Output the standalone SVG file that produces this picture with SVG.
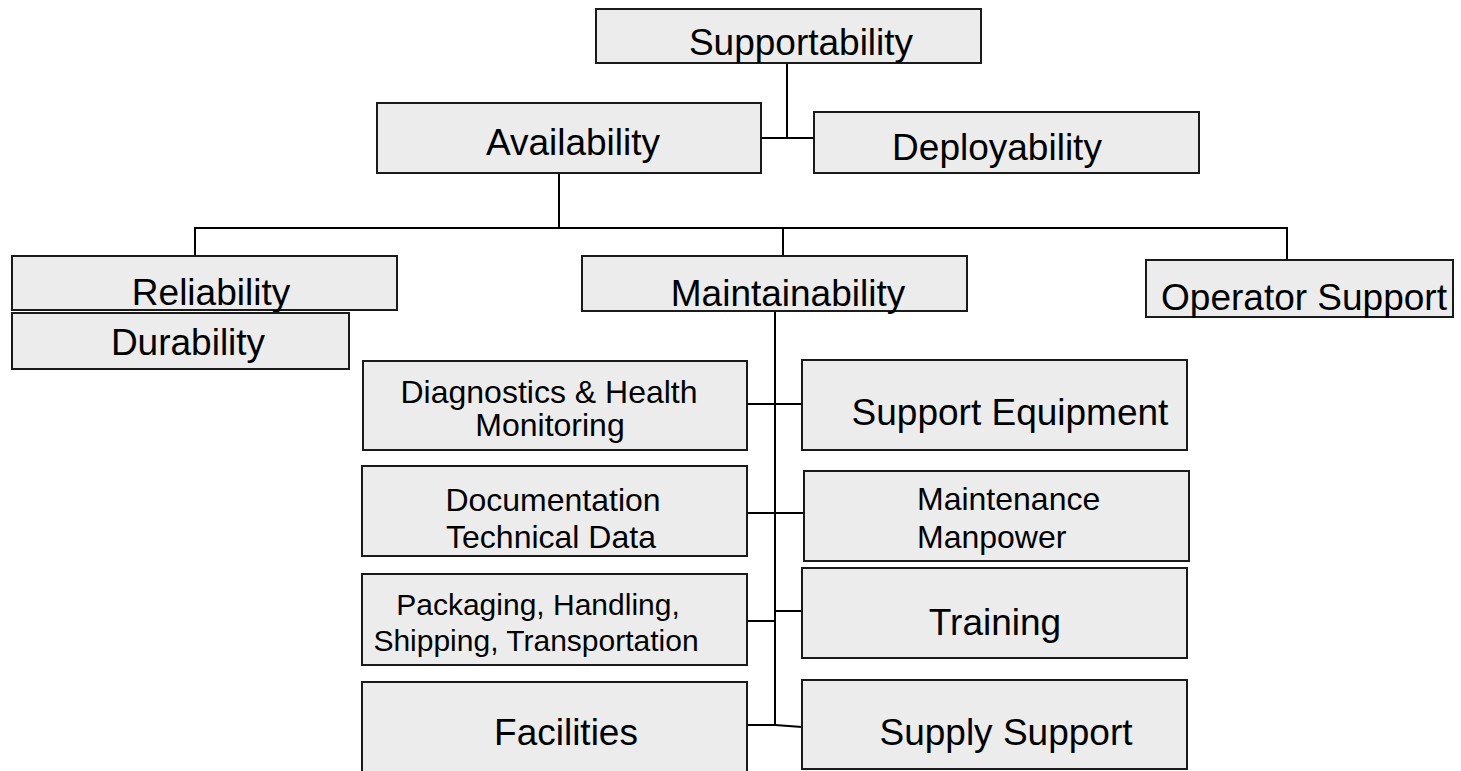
<svg xmlns="http://www.w3.org/2000/svg" width="1461" height="771" viewBox="0 0 1461 771">
<style>
.box{fill:#ececec;stroke:#1a1a1a;stroke-width:2}
.lbl{font-family:"Liberation Sans",Arial,sans-serif;fill:#000;text-anchor:middle}
.big{font-size:37px}
.mid{font-size:32px}
.sm{font-size:30px}
.conn{stroke:#000;stroke-width:2;fill:none}
</style>
<rect width="1461" height="771" fill="#fff"/>
<g id="connectors">
<line class="conn" x1="787" y1="63" x2="787" y2="138"/>
<line class="conn" x1="761" y1="138" x2="814" y2="138"/>
<line class="conn" x1="559" y1="173" x2="559" y2="228"/>
<line class="conn" x1="194" y1="228" x2="1288" y2="228"/>
<line class="conn" x1="195" y1="228" x2="195" y2="256"/>
<line class="conn" x1="783" y1="228" x2="783" y2="256"/>
<line class="conn" x1="1287" y1="228" x2="1287" y2="260"/>
<line class="conn" x1="775" y1="311" x2="775" y2="726"/>
<line class="conn" x1="747" y1="404" x2="802" y2="404"/>
<line class="conn" x1="747" y1="513" x2="804" y2="513"/>
<line class="conn" x1="747" y1="621" x2="775" y2="621"/>
<line class="conn" x1="775" y1="611" x2="802" y2="611"/>
<line class="conn" x1="747" y1="725" x2="775" y2="725"/>
<line class="conn" x1="775" y1="725" x2="802" y2="727"/>
</g>
<g id="supportability"><rect class="box" x="596" y="9" width="385" height="54"/><text class="lbl big" x="801" y="55">Supportability</text></g>
<g id="availability"><rect class="box" x="377" y="103" width="384" height="70"/><text class="lbl big" x="573" y="155">Availability</text></g>
<g id="deployability"><rect class="box" x="814" y="112" width="385" height="61"/><text class="lbl big" x="997" y="160">Deployability</text></g>
<g id="reliability"><rect class="box" x="12" y="256" width="385" height="54"/><text class="lbl big" x="211" y="305">Reliability</text></g>
<g id="durability"><rect class="box" x="12" y="313" width="337" height="56"/><text class="lbl big" x="188" y="355">Durability</text></g>
<g id="maintainability"><rect class="box" x="582" y="256" width="385" height="55"/><text class="lbl big" x="788" y="306">Maintainability</text></g>
<g id="operator-support"><rect class="box" x="1146" y="260" width="307" height="57"/><text class="lbl big" x="1304" y="310">Operator Support</text></g>
<g id="diagnostics"><rect class="box" x="363" y="361" width="384" height="89"/><text class="lbl mid" x="549" y="403">Diagnostics &amp; Health</text><text class="lbl mid" x="550" y="436">Monitoring</text></g>
<g id="documentation"><rect class="box" x="362" y="466" width="385" height="90"/><text class="lbl mid" x="553" y="511">Documentation</text><text class="lbl mid" x="551" y="548">Technical Data</text></g>
<g id="packaging"><rect class="box" x="362" y="574" width="385" height="91"/><text class="lbl sm" x="538" y="615">Packaging, Handling,</text><text class="lbl sm" x="536" y="651">Shipping, Transportation</text></g>
<g id="facilities"><rect class="box" x="362" y="682" width="385" height="100"/><text class="lbl big" x="566" y="745">Facilities</text></g>
<g id="support-equipment"><rect class="box" x="802" y="360" width="385" height="90"/><text class="lbl big" x="1010" y="425">Support Equipment</text></g>
<g id="maintenance-manpower"><rect class="box" x="804" y="471" width="385" height="90"/><text class="lbl mid" x="917" y="510" text-anchor="start" style="text-anchor:start">Maintenance</text><text class="lbl mid" x="917" y="548" style="text-anchor:start">Manpower</text></g>
<g id="training"><rect class="box" x="802" y="568" width="385" height="90"/><text class="lbl big" x="995" y="635">Training</text></g>
<g id="supply-support"><rect class="box" x="802" y="680" width="385" height="89"/><text class="lbl big" x="1006" y="745">Supply Support</text></g>
</svg>
